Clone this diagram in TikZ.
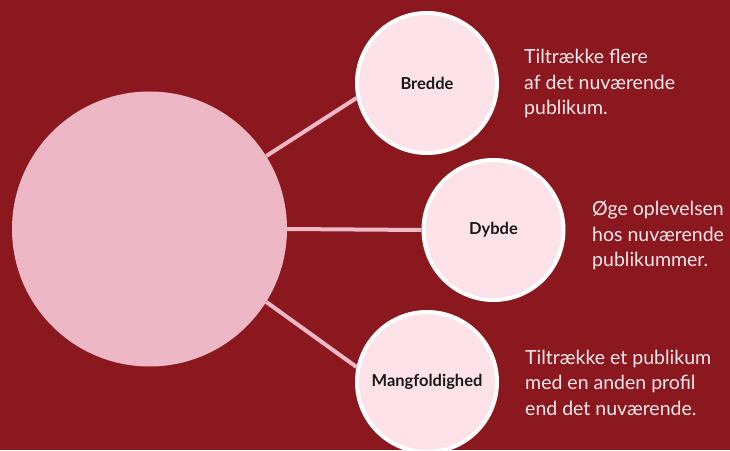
\documentclass[tikz,border=0pt]{standalone}
\usepackage{fontspec}
\setmainfont{Lato}
\usepackage{tikz}

\definecolor{bgred}{RGB}{139,24,30}
\definecolor{hubpink}{RGB}{238,183,197}
\definecolor{leafpink}{RGB}{253,226,234}
\definecolor{spoke}{RGB}{240,184,199}
\definecolor{notetext}{RGB}{250,232,236}

\tikzset{
  hub/.style = {circle, fill=hubpink, minimum size=275pt, inner sep=0pt},
  leaf/.style = {circle, fill=leafpink, draw=white, line width=4pt, minimum size=140pt,
                 inner sep=0pt, font=\fontsize{16.5}{19}\selectfont\bfseries, text=black!90},
  note/.style = {anchor=base west, inner sep=0pt, align=left, text=notetext,
                 font=\fontsize{19.5}{25.5}\selectfont}
}

\begin{document}
\begin{tikzpicture}[x=1pt, y=1pt]
    % background
    \useasboundingbox (0,0) rectangle (730,450);
    \fill[bgred] (0,0) rectangle (730,450);

    % draw circles
    \node[hub] (hub) at (149.5,221) {};
    \node[leaf] (bredde) at (427,367) {Bredde};
    \node[leaf] (dybde) at (493.5,220) {Dybde};
    \node[leaf] (mangfold) at (427,68) {Mangfoldighed};

    % draw spokes
    \foreach \from/\to in {hub.32/bredde.192, hub.east/dybde.west, hub.-32/mangfold.168}
        \draw[spoke, line width=4pt] (\from) -- (\to);

    % notes (placed at the baseline of the last line)
    \node[note] (bredde-txt) at (524,335) {Tiltrække flere\\af det nuværende\\publikum.};
    \node[note] (dybde-txt) at (592,183) {Øge oplevelsen\\hos nuværende\\publikummer.};
    \node[note] (mangfold-txt) at (525,35) {Tiltrække et publikum\\med en anden profil\\end det nuværende.};
\end{tikzpicture}
\end{document}
